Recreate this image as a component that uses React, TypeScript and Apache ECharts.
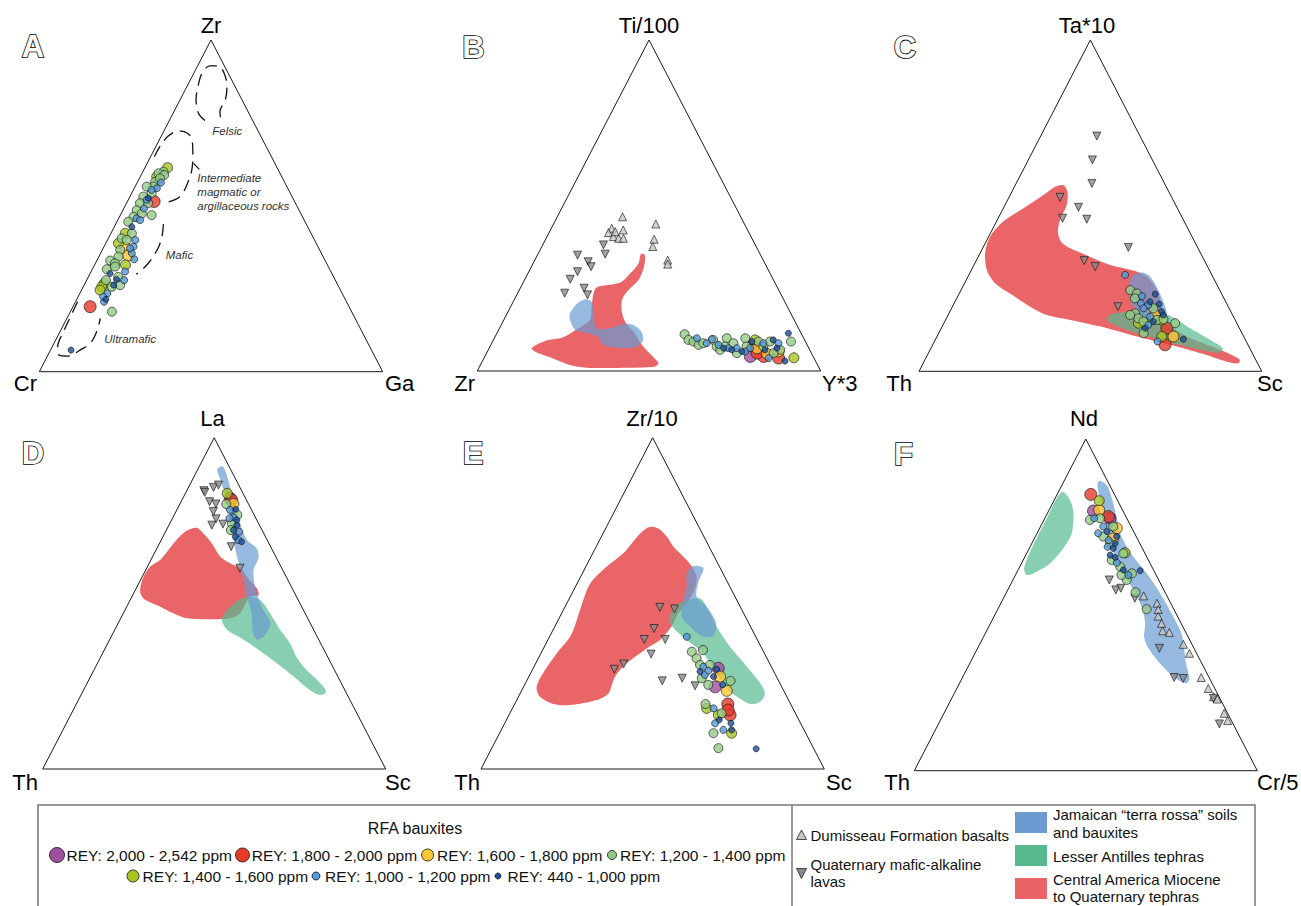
import React, { useEffect, useRef } from "react";
import * as echarts from "echarts";

// Ternary values are stored as [top %, right %]; left % = 100 - top - right.
type TR = [number, number];
// Bauxite sample: [REY class code, top %, right %]
type Sample = [string, number, number];

const REY_CODES = ["P", "R", "Y", "V", "G", "B", "D"];
const REY_LABELS: Record<string, string> = {
  P: "REY: 2,000 - 2,542 ppm",
  R: "REY: 1,800 - 2,000 ppm",
  Y: "REY: 1,600 - 1,800 ppm",
  G: "REY: 1,200 - 1,400 ppm",
  V: "REY: 1,400 - 1,600 ppm",
  B: "REY: 1,000 - 1,200 ppm",
  D: "REY: 440 - 1,000 ppm",
};

const APEX_LABELS = ["Zr", "Ti/100", "Ta*10", "La", "Zr/10", "Nd"];
const LEFT_LABELS = ["Cr", "Zr", "Th", "Th", "Th", "Th"];
const RIGHT_LABELS = ["Ga", "Y*3", "Sc", "Sc", "Sc", "Cr/5"];
const PANEL_LETTERS = ["A", "B", "C", "D", "E", "F"];

const TRIANGLE_VERTICES: TR[] = [[0, 0], [0, 100], [100, 0], [0, 0]];

// ---------- Panel A: Zr - Cr - Ga ----------
const A_BAUX: Sample[] = [
  ["V", 61.5, 6.6], ["G", 60.3, 6.0], ["G", 59.8, 4.8], ["V", 58.8, 4.8], ["G", 59.3, 6.7], ["B", 57.0, 6.9],
  ["G", 57.3, 5.1], ["G", 55.8, 5.3], ["B", 55.3, 6.6], ["G", 53.8, 5.8], ["D", 52.3, 5.6], ["B", 51.8, 5.4],
  ["G", 52.8, 3.9], ["G", 50.8, 3.9], ["B", 49.2, 5.9], ["G", 48.7, 4.0], ["R", 51.3, 7.8], ["G", 47.2, 9.1],
  ["G", 46.7, 4.1], ["B", 46.2, 5.2], ["D", 43.7, 5.1], ["G", 45.2, 3.3], ["V", 41.7, 4.2], ["G", 40.2, 3.9],
  ["B", 39.7, 8.1], ["B", 37.7, 8.6], ["Y", 37.5, 6.3], ["V", 38.7, 3.7], ["G", 36.7, 5.2], ["Y", 35.0, 8.4],
  ["B", 33.9, 10.7], ["G", 33.5, 3.9], ["G", 34.7, 5.7], ["V", 32.2, 9.0], ["B", 30.2, 9.9], ["G", 30.9, 4.2],
  ["D", 29.6, 5.8], ["D", 27.8, 8.6], ["B", 27.6, 10.9], ["V", 26.6, 5.6], ["V", 25.6, 5.4], ["G", 26.1, 10.5],
  ["D", 26.1, 8.6], ["B", 23.6, 8.0], ["D", 21.8, 8.5], ["B", 21.1, 8.3], ["R", 19.6, 5.0], ["G", 18.1, 12.1],
  ["D", 6.5, 6.0], ["G", 27.6, 5.6], ["G", 32.7, 5.7], ["B", 35.7, 9.1],
  ["G", 58.3, 6.0], ["B", 54.8, 5.3], ["G", 50.8, 6.3], ["G", 47.7, 6.0], ["B", 45.7, 6.5], ["G", 41.7, 6.1],
  ["G", 39.7, 5.6], ["B", 37.2, 7.8], ["G", 31.7, 6.2], ["G", 28.6, 8.7], ["G", 25.6, 8.3], ["V", 24.6, 5.4],
  ["B", 22.6, 7.3], ["G", 55.8, 3.4],
];
const A_FELSIC: TR[] = [[75.7, 10.4], [77.9, 7.4], [81.9, 4.7], [86.4, 3.1], [89.9, 2.4], [92.2, 3.6], [92.2, 6.0], [89.9, 8.9], [85.9, 11.7], [81.9, 13.2], [78.4, 13.4], [76.1, 14.8]];
const A_INTERMEDIATE: TR[] = [[64.8, 1.1], [68.3, 1.2], [71.1, 2.1], [72.6, 4.2], [71.9, 7.2], [69.8, 9.6], [65.8, 11.8], [60.8, 14.0], [56.3, 14.8], [52.8, 14.6], [51.2, 12.0]];
const A_MAFIC: TR[] = [[44.5, 13.9], [41.2, 15.2], [38.2, 15.9], [35.7, 15.9], [32.7, 15.4], [30.7, 14.5], [29.4, 13.5]];
const A_ULTRAMAFIC: TR[] = [[21.1, 0.6], [16.6, 0.8], [12.1, 1.0], [7.5, 1.6], [4.9, 3.4], [4.7, 6.1], [6.5, 8.6], [8.7, 10.6], [12.6, 10.6], [16.1, 9.7]];
const A_LEADER: TR[] = [[62.8, 13.5], [61.0, 16.1]];

// ---------- Panel B: Ti/100 - Zr - Y*3 ----------
const B_BAUX: Sample[] = [
  ["G", 11.1, 54.8], ["G", 9.4, 56.8], ["G", 8.9, 58.5], ["B", 9.9, 59.0], ["G", 7.9, 60.5], ["G", 9.4, 64.0],
  ["B", 9.6, 63.5], ["G", 7.4, 66.0], ["B", 7.9, 66.3], ["G", 9.9, 67.7], ["G", 7.4, 68.4], ["B", 6.9, 69.7],
  ["D", 6.4, 70.9], ["G", 8.4, 70.4], ["B", 6.9, 72.1], ["G", 9.9, 73.1], ["D", 5.9, 74.1], ["G", 7.4, 74.7],
  ["V", 9.4, 76.2], ["G", 8.9, 77.4], ["R", 7.9, 76.5], ["Y", 6.9, 78.0], ["D", 8.9, 75.5], ["B", 5.9, 75.1],
  ["G", 7.4, 79.6], ["D", 6.4, 80.6], ["G", 8.9, 80.8], ["D", 9.4, 81.5], ["B", 8.4, 83.5], ["G", 6.4, 85.0],
  ["Y", 5.9, 84.8], ["R", 3.9, 85.8], ["D", 3.0, 88.1], ["G", 8.9, 86.9], ["D", 11.4, 84.9], ["V", 4.0, 90.2],
  ["P", 4.4, 77.3], ["R", 4.4, 81.2], ["Y", 5.2, 81.8], ["B", 3.9, 82.9], ["G", 5.4, 83.6], ["D", 6.9, 83.8],
  ["B", 8.4, 79.1], ["B", 6.9, 76.0], ["G", 5.4, 72.9], ["G", 6.4, 67.5], ["B", 8.4, 62.6], ["D", 6.9, 68.3],
  ["G", 8.4, 61.6], ["R", 5.4, 78.8],
];
const B_DUMISSEAU: TR[] = [[46.6, 19.0], [42.6, 21.2], [43.1, 17.6], [41.8, 17.3], [40.6, 19.3], [40.1, 21.1], [40.1, 22.5], [44.4, 29.8], [39.8, 31.6], [37.6, 32.3], [33.5, 38.7], [32.3, 39.3], [42.1, 19.1]];
const B_QUATERNARY: TR[] = [[35.0, 11.7], [33.0, 15.8], [31.5, 17.4], [38.1, 17.7], [35.3, 19.6], [30.0, 14.2], [27.7, 13.2], [23.5, 13.7], [25.0, 18.6], [23.0, 20.6]];
const B_CENTRAL_AMERICA: TR[] = [[6.9, 12.4], [9.1, 15.2], [10.2, 19.9], [12.9, 23.0], [15.4, 25.1], [19.4, 23.6], [23.5, 22.1], [25.3, 22.2], [26.7, 28.3], [29.5, 29.8], [32.5, 30.7], [35.3, 30.0], [35.0, 31.3], [31.5, 32.8], [27.5, 33.2], [24.5, 31.8], [22.0, 31.3], [18.4, 32.8], [14.9, 35.6], [11.9, 39.5], [7.4, 44.6], [4.1, 49.3], [2.3, 51.6], [1.3, 50.7], [1.0, 44.0], [1.0, 31.3], [1.8, 26.1], [3.8, 20.2], [5.6, 14.5]];
const B_JAMAICA: TR[] = [[16.9, 18.4], [20.2, 18.8], [21.7, 20.6], [20.9, 22.9], [16.4, 25.6], [12.9, 28.4], [12.9, 32.2], [14.2, 35.4], [13.9, 38.5], [11.9, 41.8], [9.2, 43.7], [7.2, 42.4], [7.1, 36.6], [7.9, 32.8], [10.2, 30.1], [11.4, 26.6], [12.2, 22.8], [13.9, 20.6]];

// ---------- Panel C: Ta*10 - Th - Sc ----------
const C_BAUX: Sample[] = [
  ["B", 29.1, 45.6], ["G", 24.5, 49.4], ["G", 23.5, 51.8], ["B", 22.7, 53.7], ["D", 23.3, 57.3], ["G", 22.0, 52.0],
  ["B", 20.5, 54.5], ["D", 21.0, 56.9], ["B", 20.0, 56.9], ["D", 20.3, 59.9], ["G", 19.0, 58.9], ["B", 19.0, 56.0],
  ["D", 18.0, 61.8], ["G", 17.5, 54.3], ["G", 16.0, 56.0], ["Y", 17.0, 60.4], ["B", 16.5, 59.2], ["D", 17.0, 62.8],
  ["G", 15.0, 58.0], ["D", 13.0, 59.5], ["V", 14.5, 56.8], ["G", 14.5, 67.5], ["R", 13.0, 65.8], ["Y", 10.5, 69.0],
  ["V", 10.5, 65.6], ["R", 8.0, 67.8], ["B", 9.0, 65.1], ["D", 9.7, 72.3], ["G", 11.5, 59.8], ["G", 15.5, 61.7],
  ["B", 14.0, 59.9], ["G", 15.7, 63.5], ["D", 15.0, 60.9], ["V", 15.5, 63.1], ["G", 17.0, 53.1],
];
const C_QUATERNARY: TR[] = [[71.0, 16.4], [63.8, 18.7], [56.7, 22.1], [52.5, 14.9], [49.5, 21.8], [46.2, 18.8], [45.9, 26.0], [37.4, 42.4], [33.4, 31.5], [31.6, 35.6], [19.5, 48.3]];
const C_CENTRAL_AMERICA: TR[] = [[56.2, 14.0], [54.2, 16.2], [50.2, 18.0], [45.7, 18.3], [41.7, 19.7], [38.4, 22.9], [35.4, 30.3], [32.1, 39.7], [30.4, 47.4], [28.6, 52.1], [24.5, 57.2], [19.5, 61.1], [15.0, 64.3], [10.5, 72.9], [6.5, 84.6], [3.6, 91.7], [2.4, 92.0], [2.9, 88.4], [5.2, 80.4], [8.0, 69.3], [10.5, 58.3], [13.3, 47.2], [15.5, 36.4], [17.0, 28.8], [19.5, 22.7], [23.5, 14.8], [26.6, 8.9], [30.6, 4.5], [35.6, 1.5], [40.6, 0.4], [45.2, 2.0], [49.2, 5.9], [53.2, 9.7], [55.7, 11.9]];
const C_LESSER_ANTILLES: TR[] = [[15.7, 46.8], [17.3, 47.6], [18.0, 52.6], [18.3, 59.3], [16.5, 65.5], [13.0, 72.6], [9.5, 80.2], [7.0, 85.1], [5.6, 85.0], [6.5, 78.8], [8.7, 69.0], [11.5, 57.8], [13.7, 50.9]];
const C_JAMAICA: TR[] = [[28.6, 47.8], [29.8, 50.1], [28.6, 53.1], [24.5, 57.6], [19.5, 62.1], [16.0, 64.3], [15.0, 62.8], [16.0, 58.4], [19.5, 52.8], [24.5, 48.9]];

// ---------- Panel D: La - Th - Sc ----------
const D_BAUX: Sample[] = [
  ["V", 83.2, 12.2], ["R", 81.2, 14.5], ["G", 80.0, 13.5], ["Y", 80.0, 15.6], ["B", 78.2, 15.5], ["G", 76.7, 18.4],
  ["B", 76.0, 17.6], ["D", 78.4, 17.1], ["G", 74.1, 18.1], ["B", 75.7, 16.6], ["D", 73.6, 19.8], ["D", 72.1, 19.6],
  ["B", 71.6, 21.5], ["D", 70.1, 21.1], ["D", 68.6, 23.7], ["G", 72.1, 18.8], ["B", 69.1, 22.5], ["D", 75.2, 19.0],
  ["P", 81.7, 13.8],
];
const D_QUATERNARY: TR[] = [[84.0, 5.0], [85.0, 7.3], [85.7, 8.4], [80.7, 8.3], [80.0, 10.5], [77.7, 10.9], [75.5, 12.8], [73.6, 12.5], [73.9, 15.6], [67.1, 21.4], [60.6, 27.2], [83.5, 5.5]];
const D_CENTRAL_AMERICA: TR[] = [[72.8, 8.5], [71.1, 11.3], [68.1, 15.3], [64.1, 19.7], [62.1, 23.6], [60.6, 27.2], [57.0, 31.9], [54.5, 35.2], [52.5, 36.7], [52.0, 34.4], [47.0, 34.0], [45.5, 31.9], [45.2, 26.2], [45.5, 19.3], [47.0, 14.6], [49.5, 8.5], [51.5, 3.6], [54.0, 1.4], [58.0, 0.4], [61.1, 0.8], [63.1, 2.7], [68.1, 4.1], [71.6, 5.7]];
const D_LESSER_ANTILLES: TR[] = [[45.5, 29.5], [49.8, 30.7], [52.0, 33.5], [51.0, 37.9], [47.0, 42.8], [42.0, 48.2], [37.9, 53.2], [33.4, 57.5], [29.7, 62.2], [25.9, 68.0], [23.3, 71.0], [22.3, 69.8], [23.8, 66.0], [27.9, 59.2], [31.9, 52.3], [36.4, 44.2], [39.7, 37.7], [42.2, 32.5]];
const D_JAMAICA: TR[] = [[91.3, 6.9], [87.7, 10.1], [81.2, 15.0], [74.1, 20.5], [69.1, 25.0], [66.6, 29.1], [63.6, 31.1], [60.1, 31.4], [55.0, 34.4], [49.0, 39.3], [44.2, 44.2], [40.4, 44.6], [39.1, 42.9], [41.4, 40.5], [47.0, 37.4], [52.0, 33.5], [58.0, 29.3], [64.1, 24.6], [69.1, 21.1], [75.2, 17.3], [81.2, 13.0], [86.7, 8.7], [90.4, 5.7]];

// ---------- Panel E: Zr/10 - Th - Sc ----------
const E_BAUX: Sample[] = [
  ["B", 39.9, 40.0], ["G", 35.4, 43.7], ["G", 35.9, 46.7], ["G", 33.4, 46.1], ["G", 31.4, 48.1], ["B", 30.9, 49.3],
  ["D", 29.4, 49.1], ["B", 28.4, 51.0], ["G", 31.4, 51.0], ["P", 30.4, 53.9], ["D", 30.1, 53.6], ["B", 29.7, 51.4],
  ["G", 27.4, 50.6], ["D", 27.9, 53.8], ["Y", 27.9, 55.7], ["G", 26.6, 59.4], ["P", 24.8, 55.8], ["Y", 23.6, 59.8],
  ["D", 25.4, 57.7], ["G", 25.4, 53.5], ["R", 19.6, 62.1], ["G", 19.6, 55.6], ["V", 18.3, 56.6], ["B", 18.3, 58.6],
  ["R", 16.3, 64.4], ["G", 16.8, 61.7], ["V", 16.3, 61.0], ["D", 14.8, 62.0], ["B", 13.8, 61.3], ["D", 13.8, 65.9],
  ["G", 10.8, 62.3], ["V", 10.8, 67.6], ["D", 11.8, 67.1], ["B", 11.8, 64.7], ["G", 6.3, 66.0], ["D", 6.1, 77.1],
  ["R", 17.8, 63.1],
];
const E_QUATERNARY: TR[] = [[48.8, 27.7], [48.3, 32.2], [42.4, 29.2], [39.1, 28.0], [39.1, 34.1], [34.7, 32.2], [31.7, 25.7], [30.1, 23.8], [26.6, 39.5], [27.4, 44.9], [25.1, 49.8]];
const E_CENTRAL_AMERICA: TR[] = [[73.1, 12.7], [72.6, 15.4], [70.1, 19.1], [67.1, 22.5], [64.1, 26.9], [61.1, 30.9], [58.0, 33.8], [54.5, 35.1], [50.0, 34.9], [47.0, 34.0], [43.0, 34.0], [38.9, 32.7], [36.4, 30.1], [31.9, 26.5], [27.9, 25.1], [22.8, 25.7], [20.8, 23.3], [19.3, 16.3], [19.6, 11.3], [21.8, 6.3], [24.8, 3.8], [29.9, 3.7], [34.9, 4.6], [39.9, 6.0], [45.0, 5.4], [51.0, 4.3], [56.0, 3.8], [61.1, 6.1], [65.1, 8.9], [71.1, 10.8]];
const E_LESSER_ANTILLES: TR[] = [[46.0, 31.9], [49.5, 32.3], [51.0, 34.9], [51.5, 38.1], [49.0, 41.2], [43.0, 47.1], [36.9, 54.1], [30.9, 62.0], [25.9, 68.4], [22.8, 71.3], [20.3, 71.2], [19.6, 68.6], [21.3, 64.8], [23.8, 60.1], [28.9, 54.2], [34.9, 47.3], [38.9, 40.5], [42.0, 35.5], [44.5, 32.6]];
const E_JAMAICA: TR[] = [[61.3, 31.2], [60.6, 34.5], [56.5, 35.1], [52.0, 36.8], [49.0, 41.2], [45.0, 45.7], [42.0, 47.4], [39.9, 47.3], [40.4, 43.6], [43.0, 39.4], [46.0, 35.5], [51.0, 33.4], [55.0, 32.4], [59.1, 30.4]];

// ---------- Panel F: Nd - Th - Cr/5 ----------
const F_BAUX: Sample[] = [
  ["R", 83.3, 9.8], ["V", 81.4, 13.2], ["P", 78.3, 13.1], ["Y", 78.6, 14.6], ["P", 76.1, 19.0], ["G", 75.6, 13.4],
  ["B", 76.1, 14.4], ["R", 76.6, 18.3], ["G", 76.1, 16.1], ["B", 73.6, 18.3], ["Y", 73.1, 22.5], ["G", 73.6, 21.2],
  ["D", 72.1, 20.1], ["B", 71.6, 17.8], ["G", 70.6, 19.8], ["D", 70.6, 23.7], ["B", 69.5, 21.9], ["G", 68.5, 22.8],
  ["D", 68.5, 24.3], ["V", 65.7, 28.6], ["G", 65.5, 28.2], ["D", 67.0, 24.5], ["B", 67.5, 22.6], ["D", 64.3, 26.4],
  ["G", 63.5, 25.8], ["B", 62.7, 27.7], ["G", 61.5, 29.3], ["D", 60.5, 30.7], ["D", 60.3, 35.7], ["G", 59.5, 33.7],
  ["G", 57.5, 33.2], ["G", 59.0, 30.9], ["B", 59.0, 32.9], ["G", 53.8, 37.6], ["G", 48.7, 43.4], ["D", 65.0, 24.6],
  ["Y", 70.0, 23.0],
];
const F_DUMISSEAU: TR[] = [[52.7, 40.5], [50.5, 45.5], [48.6, 46.8], [46.6, 47.8], [44.4, 49.9], [42.2, 51.3], [41.7, 53.5], [38.1, 59.4], [35.4, 62.5], [28.1, 69.6], [24.8, 73.3], [22.3, 76.1], [21.6, 77.5], [17.3, 81.7], [15.1, 83.8]];
const F_QUATERNARY: TR[] = [[57.5, 28.1], [54.5, 31.5], [55.0, 32.7], [52.0, 38.3], [36.9, 53.0], [28.1, 61.7], [27.8, 64.5], [14.1, 81.9], [21.8, 76.3]];
const F_LESSER_ANTILLES: TR[] = [[84.1, 1.2], [81.6, 4.6], [77.6, 7.6], [71.6, 10.1], [67.0, 9.9], [62.5, 8.3], [60.0, 5.7], [59.0, 3.3], [61.0, 1.5], [65.5, 0.8], [71.1, 0.6], [76.1, 0.6], [81.6, 0.4]];
const F_JAMAICA: TR[] = [[87.4, 10.4], [85.8, 13.4], [78.6, 19.2], [70.6, 25.1], [64.5, 31.6], [59.5, 38.0], [53.5, 44.9], [47.4, 51.3], [41.4, 57.2], [36.9, 60.2], [32.4, 63.0], [27.8, 66.3], [26.3, 66.1], [28.3, 61.4], [32.4, 55.4], [36.9, 49.8], [40.4, 46.8], [44.4, 45.1], [49.4, 41.6], [54.5, 36.6], [59.5, 31.2], [64.5, 26.3], [70.6, 21.3], [77.6, 16.3], [82.6, 12.6], [86.6, 10.1]];

// ---------- styles / layout ----------
const REY_COLORS: Record<string, string> = {
  P: "#a14f9f", R: "#e63b2a", Y: "#fcc634", G: "#93ca87", V: "#a6c520", B: "#5599d6", D: "#1b4f98",
};
const REY_SIZES: Record<string, number> = { P: 12, R: 12, Y: 11, V: 10, G: 9, B: 7, D: 6 };
const REY_LEGEND_SIZES: Record<string, number> = { P: 15, R: 14, Y: 12, V: 12, G: 9, B: 8, D: 6 };
const FIELD_FILL: Record<string, string> = {
  red: "rgba(233,101,104,1)",
  green: "rgba(86,185,142,0.7)",
  blue: "rgba(106,155,211,0.7)",
};
const PANEL_BOX = [
  { x0: 39.3, yb: 371.7, w: 343.4, h: 331.7 },
  { x0: 477.3, yb: 371, w: 343.4, h: 331 },
  { x0: 919, yb: 371.3, w: 342.7, h: 331.3 },
  { x0: 42.7, yb: 769, w: 343, h: 331.3 },
  { x0: 481, yb: 769, w: 343.3, h: 331.3 },
  { x0: 914.3, yb: 770.7, w: 343, h: 331.7 },
];
const APEX_POS = [[211, 25], [649, 25], [1087, 25], [212.5, 418], [652, 418], [1084, 418]];
const LEFT_POS = [[37, 383.5], [475, 383.5], [912, 383.5], [38, 782], [480, 782], [910, 782]];
const RIGHT_POS = [[385, 383.5], [822, 383.5], [1257, 383.5], [385, 782], [826, 782], [1257, 782]];
const LETTER_POS = [[33, 46.5], [473.5, 47], [905, 47.5], [33, 453.5], [473, 453.5], [903.5, 454]];

const FONT = '"Liberation Sans", Arial, Helvetica, sans-serif';

const PANELS = [
  { baux: A_BAUX, dum: [] as TR[], quat: [] as TR[], fields: [] as [string, TR[]][], dashed: [A_FELSIC, A_INTERMEDIATE, A_MAFIC, A_ULTRAMAFIC], solid: [A_LEADER] },
  { baux: B_BAUX, dum: B_DUMISSEAU, quat: B_QUATERNARY, fields: [["red", B_CENTRAL_AMERICA], ["blue", B_JAMAICA]] as [string, TR[]][], dashed: [], solid: [] },
  { baux: C_BAUX, dum: [], quat: C_QUATERNARY, fields: [["red", C_CENTRAL_AMERICA], ["green", C_LESSER_ANTILLES], ["blue", C_JAMAICA]] as [string, TR[]][], dashed: [], solid: [] },
  { baux: D_BAUX, dum: [], quat: D_QUATERNARY, fields: [["red", D_CENTRAL_AMERICA], ["green", D_LESSER_ANTILLES], ["blue", D_JAMAICA]] as [string, TR[]][], dashed: [], solid: [] },
  { baux: E_BAUX, dum: [], quat: E_QUATERNARY, fields: [["red", E_CENTRAL_AMERICA], ["green", E_LESSER_ANTILLES], ["blue", E_JAMAICA]] as [string, TR[]][], dashed: [], solid: [] },
  { baux: F_BAUX, dum: F_DUMISSEAU, quat: F_QUATERNARY, fields: [["green", F_LESSER_ANTILLES], ["blue", F_JAMAICA]] as [string, TR[]][], dashed: [], solid: [] },
];

function toXY(p: TR): [number, number] {
  return [p[1] / 100 + p[0] / 200, p[0] / 100];
}

function buildOption() {
  const grid: any[] = [];
  const xAxis: any[] = [];
  const yAxis: any[] = [];
  const series: any[] = [];
  const graphic: any[] = [];

  PANELS.forEach((panel, i) => {
    const b = PANEL_BOX[i];
    grid.push({ left: b.x0, top: b.yb - b.h, width: b.w, height: b.h, containLabel: false });
    xAxis.push({ type: "value", gridIndex: i, min: 0, max: 1, show: false });
    yAxis.push({ type: "value", gridIndex: i, min: 0, max: 1, show: false });

    panel.fields.forEach(([kind, poly]) => {
      series.push({
        type: "custom",
        xAxisIndex: i,
        yAxisIndex: i,
        silent: true,
        clip: false,
        z: 1,
        data: [[0.5, 0.5]],
        renderItem: (_p: any, api: any) => ({
          type: "polygon",
          shape: { points: poly.map((pt) => api.coord(toXY(pt))), smooth: 0.3 },
          style: { fill: FIELD_FILL[kind] },
        }),
      });
    });

    series.push({
      type: "line",
      xAxisIndex: i,
      yAxisIndex: i,
      data: TRIANGLE_VERTICES.map(toXY),
      symbol: "none",
      clip: false,
      silent: true,
      z: 2,
      lineStyle: { color: "#1a1a1a", width: 1 },
    });

    panel.dashed.forEach((line) => {
      series.push({
        type: "line",
        xAxisIndex: i,
        yAxisIndex: i,
        data: line.map(toXY),
        symbol: "none",
        smooth: 0.35,
        clip: false,
        silent: true,
        z: 2,
        lineStyle: { color: "#111", width: 1.3, type: [12, 7] },
      });
    });
    panel.solid.forEach((line) => {
      series.push({
        type: "line",
        xAxisIndex: i,
        yAxisIndex: i,
        data: line.map(toXY),
        symbol: "none",
        clip: false,
        silent: true,
        z: 2,
        lineStyle: { color: "#111", width: 1.2 },
      });
    });

    if (panel.dum.length) {
      series.push({
        type: "scatter",
        name: "Dumisseau Formation basalts",
        xAxisIndex: i,
        yAxisIndex: i,
        data: panel.dum.map(toXY),
        symbol: "triangle",
        symbolSize: 8,
        clip: false,
        z: 4,
        itemStyle: { color: "#c8c8c8", borderColor: "#111", borderWidth: 0.8 },
      });
    }
    if (panel.quat.length) {
      series.push({
        type: "scatter",
        name: "Quaternary mafic-alkaline lavas",
        xAxisIndex: i,
        yAxisIndex: i,
        data: panel.quat.map(toXY),
        symbol: "triangle",
        symbolRotate: 180,
        symbolSize: 8,
        clip: false,
        z: 4,
        itemStyle: { color: "#8a8a8a", borderColor: "#111", borderWidth: 0.8 },
      });
    }
    REY_CODES.forEach((code) => {
      const pts = panel.baux.filter((s) => s[0] === code).map((s) => toXY([s[1], s[2]]));
      if (!pts.length) return;
      series.push({
        type: "scatter",
        name: REY_LABELS[code],
        xAxisIndex: i,
        yAxisIndex: i,
        data: pts,
        symbol: "circle",
        symbolSize: REY_SIZES[code],
        clip: false,
        z: 5,
        itemStyle: { color: REY_COLORS[code], borderColor: "#111", borderWidth: 0.8 },
      });
    });

    // axis-vertex labels and panel letters
    graphic.push({
      type: "text", x: APEX_POS[i][0], y: APEX_POS[i][1], silent: true,
      style: { text: APEX_LABELS[i], font: `22px ${FONT}`, fill: "#000", textAlign: "center", textVerticalAlign: "middle" },
    });
    graphic.push({
      type: "text", x: LEFT_POS[i][0], y: LEFT_POS[i][1], silent: true,
      style: { text: LEFT_LABELS[i], font: `22px ${FONT}`, fill: "#000", textAlign: "right", textVerticalAlign: "middle" },
    });
    graphic.push({
      type: "text", x: RIGHT_POS[i][0], y: RIGHT_POS[i][1], silent: true,
      style: { text: RIGHT_LABELS[i], font: `22px ${FONT}`, fill: "#000", textAlign: "left", textVerticalAlign: "middle" },
    });
    graphic.push({
      type: "text", x: LETTER_POS[i][0], y: LETTER_POS[i][1], silent: true,
      style: { text: PANEL_LETTERS[i], font: `bold 31px ${FONT}`, fill: "#fff", stroke: "#000", lineWidth: 1.6, textAlign: "center", textVerticalAlign: "middle" },
    });
  });

  // Panel A field labels
  const italic = `italic 11.5px ${FONT}`;
  const aLabels: [string, number, number][] = [
    ["Felsic", 212.3, 130.7],
    ["Intermediate", 197.3, 177.7],
    ["magmatic or", 197.3, 191.7],
    ["argillaceous rocks", 197.3, 205.7],
    ["Mafic", 165.7, 255],
    ["Ultramafic", 104.3, 339],
  ];
  aLabels.forEach(([t, x, y]) =>
    graphic.push({ type: "text", x, y, silent: true, style: { text: t, font: italic, fill: "#333", textAlign: "left", textVerticalAlign: "middle" } })
  );

  // Legend box
  graphic.push({ type: "rect", silent: true, shape: { x: 38, y: 805, width: 1217, height: 120 }, style: { fill: "none", stroke: "#777", lineWidth: 1.5 } });
  graphic.push({ type: "line", silent: true, shape: { x1: 792, y1: 805, x2: 792, y2: 925 }, style: { stroke: "#777", lineWidth: 1.5 } });
  graphic.push({
    type: "text", x: 415, y: 828, silent: true,
    style: { text: "RFA bauxites", font: `16px ${FONT}`, fill: "#111", textAlign: "center", textVerticalAlign: "middle" },
  });
  const legendItems: [string, number, number, number][] = [
    ["P", 57, 66.5, 855],
    ["R", 242.5, 251.7, 855],
    ["Y", 427.6, 437, 855],
    ["G", 612, 620, 855],
    ["V", 133, 142.6, 876],
    ["B", 316, 325, 876],
    ["D", 498, 507.6, 876],
  ];
  legendItems.forEach(([code, cx, tx, y]) => {
    graphic.push({
      type: "circle", silent: true,
      shape: { cx, cy: y, r: REY_LEGEND_SIZES[code] / 2 },
      style: { fill: REY_COLORS[code], stroke: "#111", lineWidth: 0.8 },
    });
    graphic.push({
      type: "text", x: tx, y, silent: true,
      style: { text: REY_LABELS[code], font: `15.5px ${FONT}`, fill: "#111", textAlign: "left", textVerticalAlign: "middle" },
    });
  });

  // right legend: symbols
  graphic.push({ type: "polygon", silent: true, shape: { points: [[796.5, 839.5], [806.5, 839.5], [801.5, 830]] }, style: { fill: "#c8c8c8", stroke: "#222", lineWidth: 0.8 } });
  graphic.push({ type: "text", x: 810.5, y: 835, silent: true, style: { text: "Dumisseau Formation basalts", font: `15px ${FONT}`, fill: "#111", textAlign: "left", textVerticalAlign: "middle" } });
  graphic.push({ type: "polygon", silent: true, shape: { points: [[796.5, 868.5], [806.5, 868.5], [801.5, 878.5]] }, style: { fill: "#8a8a8a", stroke: "#222", lineWidth: 0.8 } });
  graphic.push({ type: "text", x: 810.5, y: 864, silent: true, style: { text: "Quaternary mafic-alkaline", font: `15px ${FONT}`, fill: "#111", textAlign: "left", textVerticalAlign: "middle" } });
  graphic.push({ type: "text", x: 810.5, y: 881.5, silent: true, style: { text: "lavas", font: `15px ${FONT}`, fill: "#111", textAlign: "left", textVerticalAlign: "middle" } });

  const fieldLegend: [string, number, string[], number[]][] = [
    ["#6b9bd0", 812, ["Jamaican \u201cterra rossa\u201d soils", "and bauxites"], [814, 832]],
    ["#57b78d", 845, ["Lesser Antilles tephras"], [856]],
    ["#ea6467", 878, ["Central America Miocene", "to Quaternary tephras"], [879, 896.5]],
  ];
  fieldLegend.forEach(([color, y, lines, ys]) => {
    graphic.push({ type: "rect", silent: true, shape: { x: 1015, y, width: 32, height: 21 }, style: { fill: color } });
    lines.forEach((t, k) =>
      graphic.push({ type: "text", x: 1053, y: ys[k], silent: true, style: { text: t, font: `15px ${FONT}`, fill: "#111", textAlign: "left", textVerticalAlign: "middle" } })
    );
  });

  return {
    animation: false,
    backgroundColor: "#ffffff",
    textStyle: { fontFamily: FONT },
    grid,
    xAxis,
    yAxis,
    series,
    graphic,
  };
}

export default function App() {
  const ref = useRef<HTMLDivElement>(null);
  useEffect(() => {
    if (!ref.current) return;
    const chart = echarts.init(ref.current, undefined, { renderer: "svg" });
    chart.setOption(buildOption() as any);
    return () => chart.dispose();
  }, []);
  return (
    <div
      ref={ref}
      style={{ position: "fixed", left: 0, top: 0, width: 1301, height: 906, background: "#fff" }}
    />
  );
}
